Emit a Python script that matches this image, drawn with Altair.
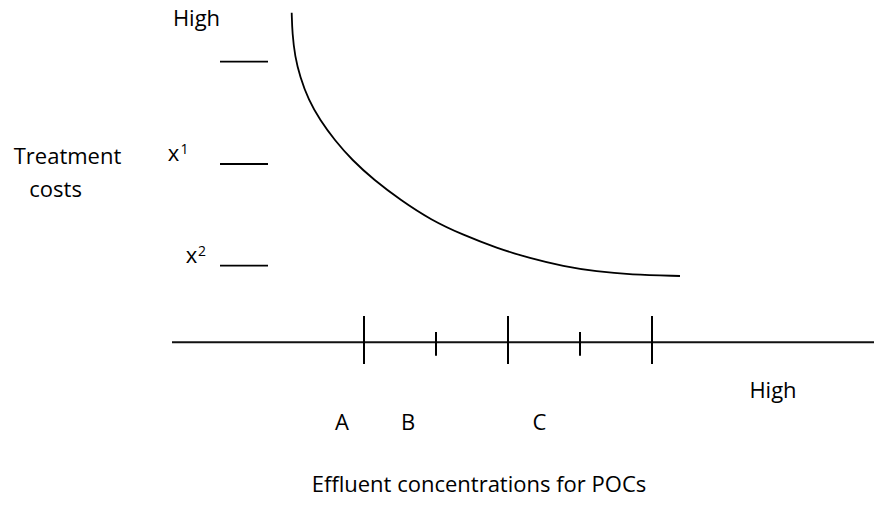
import altair as alt
import pandas as pd

# ---- data (schematic coordinates, page pixel units) ----
curve_x = [291.7, 292.3, 295.0, 300.0, 308.5, 320.0, 334.5, 352.0, 374.0, 400.5,
           431.0, 463.3, 496.7, 530.0, 563.3, 596.7, 630.0, 680.0]
curve_y = [12.7, 33.3, 56.7, 76.7, 100.0, 120.0, 140.0, 160.0, 180.0, 200.0,
           220.0, 235.0, 248.0, 258.3, 266.3, 271.6, 274.6, 276.0]

axis_x_start = [172]
axis_x_end = [874]
axis_y = [342.3]

major_ticks = [364, 508, 652]
minor_ticks = [436, 580]

level_marks_y = [61.7, 164.0, 265.7]
level_marks_x = [220]
level_marks_x2 = [268]

main_labels = ["High", "Treatment", "costs", "A", "B", "C", "High",
               "Effluent concentrations for POCs"]
main_label_x = [196.5, 67.5, 55.6, 342, 408, 539.5, 773, 311.7]
main_label_y = [26, 164.3, 196.7, 430, 430, 430, 398, 492]
main_label_align = ["center", "center", "center", "center", "center", "center",
                    "center", "left"]

x_labels = ["x", "x"]
x_label_x = [173.5, 191.5]
x_label_y = [160.5, 263]
sup_labels = ["1", "2"]
sup_x = [184.5, 202]
sup_y = [154, 255.5]

W, H = 866, 489
xs = alt.Scale(domain=[8, 8 + W], nice=False, zero=False)
ys = alt.Scale(domain=[8, 8 + H], nice=False, zero=False, reverse=True)
X = lambda f: alt.X(f, type="quantitative", scale=xs, axis=None)
Y = lambda f: alt.Y(f, type="quantitative", scale=ys, axis=None)

curve = alt.Chart(pd.DataFrame({"x": curve_x, "y": curve_y})).mark_line(
    color="black", strokeWidth=1.8, interpolate="basis"
).encode(x=X("x"), y=Y("y"))

axis_line = alt.Chart(pd.DataFrame({"x": axis_x_start, "x2": axis_x_end, "y": axis_y})).mark_rule(
    color="#111", strokeWidth=2
).encode(x=X("x"), x2="x2", y=Y("y"))

major = alt.Chart(pd.DataFrame({"x": major_ticks, "y": [316] * 3, "y2": [364] * 3})).mark_rule(
    color="black", strokeWidth=2
).encode(x=X("x"), y=Y("y"), y2="y2")

minor = alt.Chart(pd.DataFrame({"x": minor_ticks, "y": [332] * 2, "y2": [355.7] * 2})).mark_rule(
    color="black", strokeWidth=2
).encode(x=X("x"), y=Y("y"), y2="y2")

levels = alt.Chart(pd.DataFrame({
    "y": level_marks_y,
    "x": level_marks_x * 3,
    "x2": level_marks_x2 * 3,
})).mark_rule(color="black", strokeWidth=1.8).encode(x=X("x"), x2="x2", y=Y("y"))

lab_df = pd.DataFrame({"t": main_labels, "x": main_label_x, "y": main_label_y,
                       "a": main_label_align})
labels_center = alt.Chart(lab_df[lab_df.a == "center"]).mark_text(
    font="Open Sans", fontSize=22, align="center", baseline="alphabetic", color="black"
).encode(x=X("x"), y=Y("y"), text="t:N")
labels_left = alt.Chart(lab_df[lab_df.a == "left"]).mark_text(
    font="Open Sans", fontSize=22, align="left", baseline="alphabetic", color="black"
).encode(x=X("x"), y=Y("y"), text="t:N")

xl = alt.Chart(pd.DataFrame({"t": x_labels, "x": x_label_x, "y": x_label_y})).mark_text(
    font="Open Sans", fontSize=22, align="center", baseline="alphabetic", color="black"
).encode(x=X("x"), y=Y("y"), text="t:N")

sup = alt.Chart(pd.DataFrame({"t": sup_labels, "x": sup_x, "y": sup_y})).mark_text(
    font="Open Sans", fontSize=14, align="center", baseline="alphabetic", color="black"
).encode(x=X("x"), y=Y("y"), text="t:N")

chart = alt.layer(curve, axis_line, major, minor, levels, labels_center, labels_left, xl, sup).properties(
    width=W, height=H, padding=0, background="white",
    autosize=alt.AutoSizeParams(type="none")
).configure_view(stroke=None, strokeWidth=0)

chart.save("out.html", embed_options={"renderer": "svg", "actions": False})
